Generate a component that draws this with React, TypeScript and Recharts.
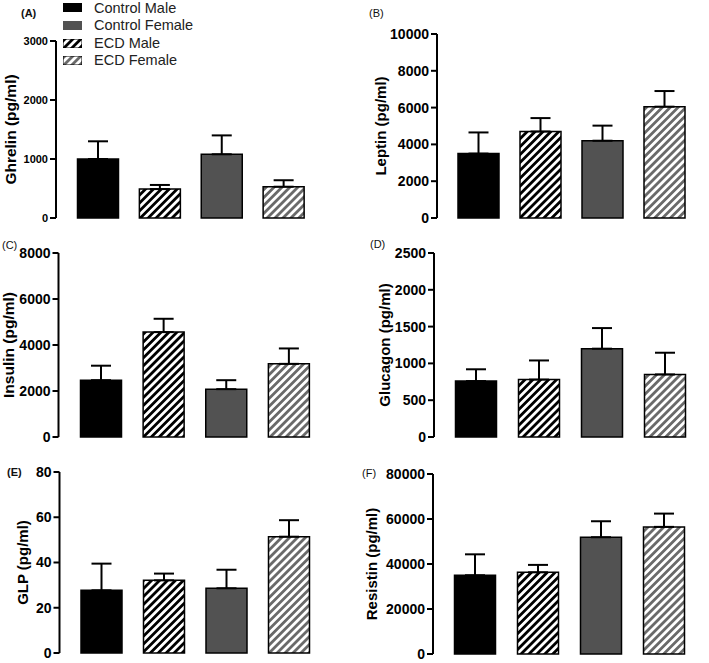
import React from 'react';
import { BarChart, Bar, XAxis, YAxis, ErrorBar, Cell, Label } from 'recharts';

const FONT = '"Liberation Sans", Arial, Helvetica, sans-serif';

// bar order in every panel
const groups = ['Control Male', 'ECD Male', 'Control Female', 'ECD Female'];
const legendOrder = ['Control Male', 'Control Female', 'ECD Male', 'ECD Female'];

const ghrelinMean = [1000, 490, 1080, 530];
const ghrelinSem = [300, 70, 320, 110];
const ghrelinTicks = [0, 1000, 2000, 3000];

const leptinMean = [3500, 4700, 4200, 6050];
const leptinSem = [1150, 730, 820, 850];
const leptinTicks = [0, 2000, 4000, 6000, 8000, 10000];

const insulinMean = [2470, 4560, 2080, 3180];
const insulinSem = [630, 580, 390, 670];
const insulinTicks = [0, 2000, 4000, 6000, 8000];

const glucagonMean = [760, 780, 1200, 850];
const glucagonSem = [160, 260, 280, 295];
const glucagonTicks = [0, 500, 1000, 1500, 2000, 2500];

const glpMean = [27.7, 32.1, 28.6, 51.4];
const glpSem = [11.8, 3.0, 8.2, 7.3];
const glpTicks = [0, 20, 40, 60, 80];

const resistinMean = [35000, 36300, 51900, 56500];
const resistinSem = [9300, 3300, 7100, 5900];
const resistinTicks = [0, 20000, 40000, 60000, 80000];

const fills: Record<string, string> = {
  'Control Male': '#000000',
  'ECD Male': 'url(#hatchBlack)',
  'Control Female': '#525252',
  'ECD Female': 'url(#hatchGray)',
};

function buildRows(mean: number[], sem: number[]) {
  return groups.map((g, i) => ({ group: g, mean: mean[i], err: [0, sem[i]] }));
}

type PanelCfg = {
  letter: string;
  letterBold: boolean;
  letterPos: [number, number];
  title: string;
  mean: number[];
  sem: number[];
  ticks: number[];
  box: { x: number; y: number; w: number; h: number };
  plot: { l: number; t: number; r: number; b: number };
  padL: number;
  padR: number;
  labelX: number;
  labelFont: number;
  tickFont: number;
};

const panels: PanelCfg[] = [
  {
    letter: '(A)', letterBold: true, letterPos: [21, 12.5], title: 'Ghrelin (pg/ml)',
    mean: ghrelinMean, sem: ghrelinSem, ticks: ghrelinTicks,
    box: { x: 0, y: 0, w: 340, h: 230 }, plot: { l: 56, t: 41, r: 326, b: 218 },
    padL: 11.5, padR: 11, labelX: 10, labelFont: 15.5, tickFont: 11,
  },
  {
    letter: '(B)', letterBold: false, letterPos: [369, 13], title: 'Leptin (pg/ml)',
    mean: leptinMean, sem: leptinSem, ticks: leptinTicks,
    box: { x: 340, y: 0, w: 369, h: 230 }, plot: { l: 437, t: 34, r: 701, b: 218 },
    padL: 10, padR: 6, labelX: 380, labelFont: 15, tickFont: 14,
  },
  {
    letter: '(C)', letterBold: false, letterPos: [2, 245], title: 'Insulin (pg/ml)',
    mean: insulinMean, sem: insulinSem, ticks: insulinTicks,
    box: { x: 0, y: 230, w: 340, h: 215 }, plot: { l: 58.5, t: 253, r: 331, b: 437 },
    padL: 11, padR: 11, labelX: 8.5, labelFont: 15.5, tickFont: 14,
  },
  {
    letter: '(D)', letterBold: false, letterPos: [370, 244], title: 'Glucagon (pg/ml)',
    mean: glucagonMean, sem: glucagonSem, ticks: glucagonTicks,
    box: { x: 340, y: 230, w: 369, h: 215 }, plot: { l: 434, t: 253, r: 700, b: 437 },
    padL: 10.5, padR: 3.5, labelX: 384, labelFont: 15, tickFont: 14,
  },
  {
    letter: '(E)', letterBold: true, letterPos: [7, 472], title: 'GLP (pg/ml)',
    mean: glpMean, sem: glpSem, ticks: glpTicks,
    box: { x: 0, y: 445, w: 340, h: 218 }, plot: { l: 59.5, t: 472, r: 331, b: 653 },
    padL: 10.5, padR: 11, labelX: 22.5, labelFont: 15, tickFont: 14,
  },
  {
    letter: '(F)', letterBold: false, letterPos: [362, 473], title: 'Resistin (pg/ml)',
    mean: resistinMean, sem: resistinSem, ticks: resistinTicks,
    box: { x: 340, y: 445, w: 369, h: 218 }, plot: { l: 433, t: 474, r: 701, b: 654 },
    padL: 10.5, padR: 5.5, labelX: 371, labelFont: 15, tickFont: 14,
  },
];

function Panel({ p }: { p: PanelCfg }) {
  const { w, h } = p.box;
  const rows = buildRows(p.mean, p.sem);
  const lx = p.labelX - p.box.x;
  const ly = (p.plot.t + p.plot.b) / 2 - p.box.y;
  return (
    <div style={{ position: 'absolute', left: p.box.x, top: p.box.y, width: w, height: h }}>
      <BarChart
        width={w}
        height={h}
        data={rows}
        barSize={41}
        margin={{
          top: p.plot.t - p.box.y,
          right: p.box.x + w - p.plot.r,
          bottom: p.box.y + h - p.plot.b,
          left: 0,
        }}
      >
        <XAxis
          dataKey="group"
          tick={false}
          tickLine={false}
          height={0}
          padding={{ left: p.padL, right: p.padR }}
          axisLine={{ stroke: '#000', strokeWidth: 2 }}
        />
        <YAxis
          width={p.plot.l - p.box.x}
          domain={[0, p.ticks[p.ticks.length - 1]]}
          ticks={p.ticks}
          interval={0}
          tickSize={6}
          tickMargin={2}
          axisLine={{ stroke: '#000', strokeWidth: 2 }}
          tickLine={{ stroke: '#000', strokeWidth: 2 }}
          tick={{ fontSize: p.tickFont, fontWeight: 700, fill: '#000', fontFamily: FONT }}
          label={
            <Label
              content={() => (
                <text
                  x={lx}
                  y={ly}
                  transform={`rotate(-90 ${lx} ${ly})`}
                  textAnchor="middle"
                  dominantBaseline="central"
                  fontSize={p.labelFont}
                  fontWeight={700}
                  fontFamily={FONT}
                  fill="#000"
                >
                  {p.title}
                </text>
              )}
            />
          }
        />
        <Bar dataKey="mean" isAnimationActive={false} stroke="#000" strokeWidth={1.5}>
          {rows.map((r) => (
            <Cell key={r.group} fill={fills[r.group]} />
          ))}
          <ErrorBar dataKey="err" width={10} strokeWidth={2} stroke="#000" direction="y" isAnimationActive={false} />
        </Bar>
      </BarChart>
    </div>
  );
}

export default function App() {
  return (
    <div
      style={{
        position: 'absolute',
        left: 0,
        top: 0,
        width: 709,
        height: 663,
        background: '#fff',
        fontFamily: FONT,
        overflow: 'hidden',
      }}
    >
      <svg width={0} height={0} style={{ position: 'absolute' }}>
        <defs>
          <pattern id="hatchBlack" patternUnits="userSpaceOnUse" width="5.6" height="5.6" patternTransform="rotate(45)">
            <rect width="5.6" height="5.6" fill="#fff" />
            <rect width="2.8" height="5.6" fill="#000" />
          </pattern>
          <pattern id="hatchGray" patternUnits="userSpaceOnUse" width="5.6" height="5.6" patternTransform="rotate(45)">
            <rect width="5.6" height="5.6" fill="#fff" />
            <rect width="2.8" height="5.6" fill="#6a6a6a" />
          </pattern>
        </defs>
      </svg>
      {panels.map((p) => (
        <Panel key={p.letter} p={p} />
      ))}
      {panels.map((p) => (
        <div
          key={'l' + p.letter}
          style={{
            position: 'absolute',
            left: p.letterPos[0],
            top: p.letterPos[1] - 6,
            fontSize: 11,
            lineHeight: '12px',
            fontWeight: p.letterBold ? 700 : 400,
            color: '#111',
          }}
        >
          {p.letter}
        </div>
      ))}
      {legendOrder.map((g, i) => {
        const cy = [7.5, 25, 43, 60][i];
        return (
          <div key={g} style={{ position: 'absolute', left: 63, top: cy - 8, height: 16, display: 'flex', alignItems: 'center' }}>
            <svg width={19} height={9} style={{ display: 'block' }}>
              <rect x={0} y={0} width={19} height={9} fill={fills[g]} stroke={g.startsWith('ECD') ? '#000' : 'none'} strokeWidth={1} />
            </svg>
            <span style={{ marginLeft: 12, fontSize: 14.5, lineHeight: '16px', color: '#222', whiteSpace: 'nowrap' }}>{g}</span>
          </div>
        );
      })}
    </div>
  );
}
